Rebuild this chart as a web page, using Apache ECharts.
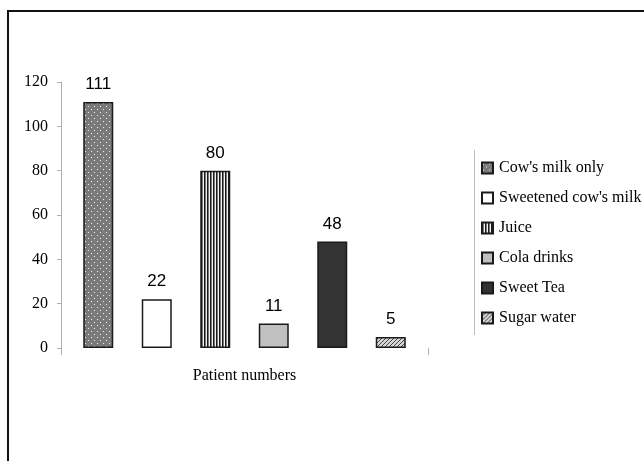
<!DOCTYPE html>
<html>
<head>
<meta charset="utf-8">
<script src="https://cdn.jsdelivr.net/npm/echarts@6/dist/echarts.min.js"></script>
<style>
  html, body { margin: 0; padding: 0; background: #ffffff; }
  #chart { width: 644px; height: 461px; }
</style>
</head>
<body>
<div id="chart"></div>
<script>
// Beverage groups and patient counts
const categories = ['Patient numbers'];
const drinkNames = ["Cow's milk only", "Sweetened cow's milk", 'Juice', 'Cola drinks', 'Sweet Tea', 'Sugar water'];
const patientCounts = [111, 22, 80, 11, 48, 5];

// Small canvas tiles used as bar fills
function makeTile(w, h, draw) {
  const c = document.createElement('canvas');
  c.width = w; c.height = h;
  draw(c.getContext('2d'));
  return { image: c, repeat: 'repeat' };
}

const dotted = makeTile(6, 6, g => {
  g.fillStyle = '#858585'; g.fillRect(0, 0, 6, 6);
  g.fillStyle = '#6f6f6f';
  for (let y = 0; y < 6; y++) for (let x = 0; x < 6; x++) if ((x + y) % 2 === 0) g.fillRect(x, y, 1, 1);
  g.fillStyle = '#e8e8e8';
  g.fillRect(1, 1, 1, 1); g.fillRect(4, 4, 1, 1);
});
const striped = makeTile(3, 4, g => {
  g.fillStyle = '#f4f4f4'; g.fillRect(0, 0, 3, 4);
  g.fillStyle = '#1a1a1a'; g.fillRect(0, 0, 1, 4);
  g.fillStyle = '#777777'; g.fillRect(1, 0, 1, 4);
});
const hatched = makeTile(4, 4, g => {
  g.fillStyle = '#d6d6d6'; g.fillRect(0, 0, 4, 4);
  g.fillStyle = '#444444';
  for (let i = 0; i < 4; i++) g.fillRect(3 - i, i, 1, 1);
});

const fills = [dotted, '#ffffff', striped, '#c0c0c0', '#333333', hatched];

const chart = echarts.init(document.getElementById('chart'), null, { renderer: 'canvas' });

chart.setOption({
  backgroundColor: '#ffffff',
  animation: false,
  graphic: [
    { type: 'rect', shape: { x: 8, y: 11, width: 700, height: 500 },
      style: { fill: 'none', stroke: '#111111', lineWidth: 2 }, silent: true },
    { type: 'line', shape: { x1: 474.5, y1: 150, x2: 474.5, y2: 335 },
      style: { stroke: '#bdbdbd', lineWidth: 1 }, silent: true }
  ],
  grid: { left: 61, right: 216, top: 82, bottom: 113 },
  legend: {
    orient: 'vertical',
    left: 481,
    top: 160,
    padding: 0,
    itemWidth: 11,
    itemHeight: 11,
    itemGap: 14,
    icon: 'rect',
    data: drinkNames,
    textStyle: { fontFamily: 'Liberation Serif', fontSize: 16, color: '#000', lineHeight: 16, padding: [0, 0, 0, 1] }
  },
  xAxis: {
    type: 'category',
    data: categories,
    axisLine: { show: false },
    axisTick: { show: true, length: 7, lineStyle: { color: '#b0b0b0' } },
    axisLabel: { margin: 20, fontFamily: 'Liberation Serif', fontSize: 16, color: '#000' },
    splitLine: { show: false }
  },
  yAxis: {
    type: 'value',
    min: 0, max: 120, interval: 20,
    axisLine: { show: true, lineStyle: { color: '#b0b0b0' } },
    axisTick: { show: true, length: 4, lineStyle: { color: '#b0b0b0' } },
    axisLabel: { margin: 13, fontFamily: 'Liberation Serif', fontSize: 16, color: '#000' },
    splitLine: { show: false }
  },
  series: drinkNames.map((name, i) => ({
    name: name,
    type: 'bar',
    data: [patientCounts[i]],
    barWidth: 30,
    barGap: '95%',
    itemStyle: { color: fills[i], borderColor: '#1a1a1a', borderWidth: 1.5 },
    label: {
      show: true, position: 'top', distance: 9,
      fontFamily: 'Liberation Sans', fontSize: 17, color: '#000'
    }
  }))
});
</script>
</body>
</html>
